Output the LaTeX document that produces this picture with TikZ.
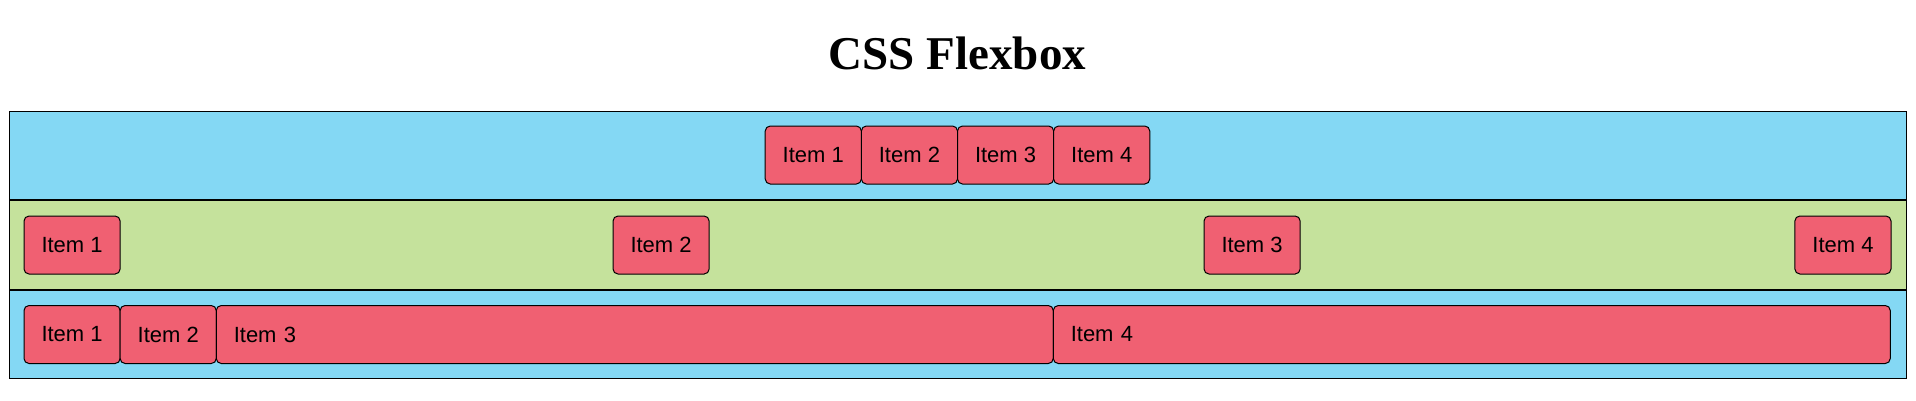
\documentclass[tikz,border=0pt]{standalone}
\usepackage{fontspec}
\setmainfont{Liberation Sans}
\newfontfamily\titlefont{Liberation Serif}
\usetikzlibrary{positioning}
\definecolor{boxblue}{RGB}{132,216,244}
\definecolor{boxgreen}{RGB}{197,226,156}
\definecolor{itemred}{RGB}{240,96,114}

\begin{document}
\begin{tikzpicture}
[x=1pt, y=-1pt, line width=1pt, node distance=0pt,
	item/.style={draw, fill=itemred, rounded corners=5pt, minimum height=58pt,
		inner xsep=17.5pt, inner ysep=0pt, outer sep=0pt,
		font=\fontsize{22}{26}\selectfont},
	wide/.style={item, text width=802pt, align=left}]
\useasboundingbox (0,0) rectangle (1916,400);

\node (title) at (957.5,69)[anchor=base, font=\titlefont\bfseries\fontsize{47}{52}\selectfont] {CSS Flexbox};

\draw[fill=boxblue] (9,111) rectangle (1906,199);
\draw[fill=boxgreen] (9,200) rectangle (1906,289);
\draw[fill=boxblue] (9,290) rectangle (1906,378);

% centred row
\node (a2) at (957.5,155)[item, anchor=east] {Item 2};
\node (a1) [item, left=of a2] {Item 1};
\node (a3) at (957.5,155)[item, anchor=west] {Item 3};
\node (a4) [item, right=of a3] {Item 4};

% spread row
\node (b1) at (24,245)[item, anchor=west] {Item 1};
\node (b2) at (613,245)[item, anchor=west] {Item 2};
\node (b3) at (1204,245)[item, anchor=west] {Item 3};
\node (b4) at (1891,245)[item, anchor=east] {Item 4};

% growing row
\node (c1) at (24,334.5)[item, anchor=west] {Item 1};
\node (c2) [item, right=of c1] {Item 2};
\node (c3) [wide, right=of c2] {Item 3};
\node (c4) [wide, right=of c3] {Item 4};

\end{tikzpicture}
\end{document}
